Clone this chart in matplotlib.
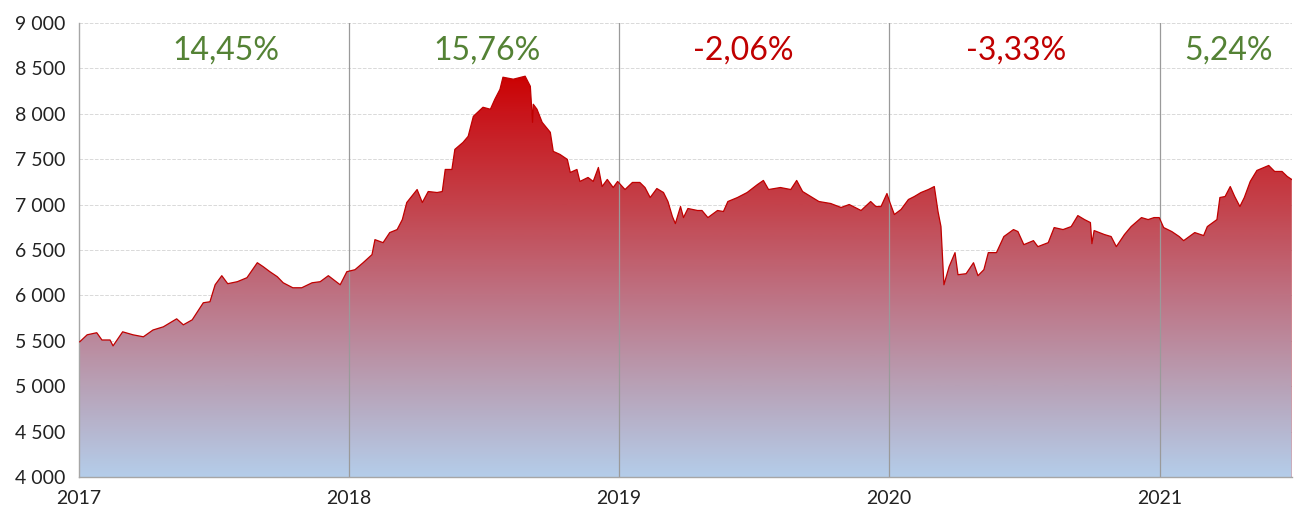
import numpy as np
import pandas as pd
import matplotlib
matplotlib.use("Agg")
import matplotlib.pyplot as plt
import matplotlib.dates as mdates
from matplotlib.colors import LinearSegmentedColormap
from matplotlib.ticker import FuncFormatter

plt.rcParams['font.family'] = ['Lato', 'DejaVu Sans']

# index values
dates = [
    '2017-01-02', '2017-01-12', '2017-01-25', '2017-02-01', '2017-02-12', '2017-02-16',
    '2017-03-01', '2017-03-15', '2017-03-29', '2017-04-11', '2017-04-25', '2017-05-13',
    '2017-05-22', '2017-06-03', '2017-06-18', '2017-06-27', '2017-07-04', '2017-07-13',
    '2017-07-21', '2017-08-03', '2017-08-16', '2017-08-30', '2017-09-07', '2017-09-16',
    '2017-09-26', '2017-10-04', '2017-10-17', '2017-10-29', '2017-11-12', '2017-11-23',
    '2017-12-04', '2017-12-20', '2017-12-29',
    '2018-01-09', '2018-01-20', '2018-02-01', '2018-02-05', '2018-02-16', '2018-02-25',
    '2018-03-07', '2018-03-14', '2018-03-20', '2018-04-03', '2018-04-10', '2018-04-18',
    '2018-04-30', '2018-05-07', '2018-05-11', '2018-05-20', '2018-05-24', '2018-06-04',
    '2018-06-11', '2018-06-18', '2018-07-01', '2018-07-11', '2018-07-17', '2018-07-24',
    '2018-07-28', '2018-08-11', '2018-08-27', '2018-09-03', '2018-09-06', '2018-09-07',
    '2018-09-12', '2018-09-19', '2018-09-30', '2018-10-04', '2018-10-13', '2018-10-23',
    '2018-10-27', '2018-11-05', '2018-11-09', '2018-11-20', '2018-11-27', '2018-12-04',
    '2018-12-09', '2018-12-16', '2018-12-24', '2018-12-30',
    '2019-01-09', '2019-01-19', '2019-01-29', '2019-02-05', '2019-02-12', '2019-02-21',
    '2019-03-02', '2019-03-08', '2019-03-14', '2019-03-18', '2019-03-25', '2019-03-29',
    '2019-04-04', '2019-04-17', '2019-04-23', '2019-05-01', '2019-05-14', '2019-05-22',
    '2019-05-28', '2019-06-10', '2019-06-23', '2019-07-07', '2019-07-15', '2019-07-22',
    '2019-08-07', '2019-08-21', '2019-08-29', '2019-09-06', '2019-09-17', '2019-09-28',
    '2019-10-14', '2019-10-28', '2019-11-08', '2019-11-24', '2019-12-07', '2019-12-14',
    '2019-12-21', '2019-12-29',
    '2020-01-02', '2020-01-08', '2020-01-17', '2020-01-27', '2020-02-04', '2020-02-13',
    '2020-02-23', '2020-03-02', '2020-03-07', '2020-03-11', '2020-03-15', '2020-03-22',
    '2020-03-30', '2020-04-03', '2020-04-14', '2020-04-24', '2020-04-30', '2020-05-08',
    '2020-05-14', '2020-05-25', '2020-06-04', '2020-06-17', '2020-06-23', '2020-07-01',
    '2020-07-14', '2020-07-20', '2020-08-03', '2020-08-11', '2020-08-23', '2020-09-03',
    '2020-09-12', '2020-09-21', '2020-09-29', '2020-10-01', '2020-10-04', '2020-10-18',
    '2020-10-27', '2020-11-03', '2020-11-14', '2020-11-23', '2020-12-07', '2020-12-16',
    '2020-12-24', '2020-12-31',
    '2021-01-06', '2021-01-17', '2021-01-27', '2021-02-02', '2021-02-17', '2021-03-01',
    '2021-03-06', '2021-03-19', '2021-03-23', '2021-03-30', '2021-04-06', '2021-04-12',
    '2021-04-19', '2021-04-25', '2021-05-03', '2021-05-12', '2021-05-28', '2021-06-05',
    '2021-06-15', '2021-06-22', '2021-06-28',
]
values = [
    5490, 5567, 5590, 5510, 5510, 5445,
    5600, 5567, 5545, 5620, 5655, 5743,
    5677, 5732, 5920, 5931, 6118, 6218,
    6130, 6152, 6196, 6361, 6317, 6262,
    6207, 6140, 6085, 6085, 6140, 6152,
    6218, 6118, 6262,
    6284, 6361, 6450, 6615, 6582, 6693,
    6726, 6836, 7024, 7167, 7024, 7145,
    7134, 7145, 7388, 7388, 7609, 7686,
    7753, 7973, 8073, 8051, 8161, 8271,
    8404, 8382, 8415, 8304, 7907, 8106,
    8051, 7907, 7797, 7587, 7554, 7499,
    7355, 7388, 7256, 7300, 7256, 7410,
    7200, 7278, 7189, 7256,
    7167, 7245, 7245, 7189, 7079, 7178,
    7134, 7035, 6870, 6792, 6980, 6858,
    6958, 6936, 6936, 6858, 6936, 6925,
    7035, 7079, 7134, 7222, 7267, 7167,
    7189, 7167, 7267, 7145, 7090, 7035,
    7013, 6969, 7002, 6936, 7035, 6980,
    6980, 7123,
    7024, 6892, 6947, 7057, 7090, 7134,
    7167, 7200, 6925, 6759, 6118, 6317,
    6472, 6229, 6240, 6361, 6218, 6284,
    6472, 6472, 6649, 6726, 6704, 6560,
    6604, 6538, 6582, 6748, 6726, 6759,
    6880, 6836, 6803, 6571, 6715, 6671,
    6649, 6538, 6671, 6759, 6858, 6836,
    6858, 6858,
    6748, 6704, 6649, 6604, 6693, 6660,
    6759, 6836, 7079, 7090, 7200, 7090,
    6980, 7079, 7256, 7377, 7432, 7366,
    7366, 7311, 7278,
]

years = ['2017', '2018', '2019', '2020', '2021']
year_returns = ['14,45%', '15,76%', '-2,06%', '-3,33%', '5,24%']
label_dates = ['2017-07-18', '2018-07-06', '2019-06-18', '2020-06-20', '2021-04-04']

x = mdates.date2num(pd.to_datetime(dates))
y = np.array(values, dtype=float)
ymin, ymax = 4000, 9000
xmin = mdates.date2num(pd.Timestamp('2017-01-01'))
xmax = x[-1]

fig = plt.figure(figsize=(12.95, 5.13), dpi=100)
ax = fig.add_axes([0.061, 0.070, 0.937, 0.885])

# gradient fill, clipped to the area under the curve
cmap = LinearSegmentedColormap.from_list('grad', [
    (0.0, '#b4cdea'), (0.2, '#b8a1b6'), (0.4, '#be7283'),
    (0.6, '#c4424b'), (0.8, '#c9151b'), (0.89, '#cc0000'), (1.0, '#cc0000')])
grad = np.linspace(0, 1, 512).reshape(-1, 1)
img = ax.imshow(grad, cmap=cmap, aspect='auto', origin='lower',
                extent=[xmin, xmax, ymin, ymax], zorder=1)
poly = ax.fill_between(x, y, ymin, facecolor='none', edgecolor='none')
clip = poly.get_paths()[0]
img.set_clip_path(clip, transform=ax.transData)

ax.plot(x, y, color='#c00000', lw=0.9, zorder=3)
ax.plot([x[-1], x[-1]], [ymin, y[-1]], color='#c00000', lw=1.0, zorder=3)

# year separators
for yr in years[1:]:
    ax.axvline(mdates.date2num(pd.Timestamp(yr + '-01-01')), color='#9a9a9a', lw=0.9, zorder=2)

for lab, d in zip(year_returns, label_dates):
    col = '#c00000' if lab.startswith('-') else '#548235'
    ax.text(mdates.date2num(pd.Timestamp(d)), 8700, lab, color=col, fontsize=23,
            ha='center', va='center', zorder=4)

ax.set_xlim(xmin, xmax + 1)
ax.set_ylim(ymin, ymax)
ax.set_yticks(np.arange(4000, 9001, 500))
ax.yaxis.set_major_formatter(FuncFormatter(lambda v, p: f'{int(v):,}'.replace(',', ' ')))
ax.set_xticks([mdates.date2num(pd.Timestamp(yr + '-01-01')) for yr in years])
ax.set_xticklabels(years)
ax.tick_params(length=0, labelsize=14, colors='#222222')
ax.tick_params(axis='x', pad=9)
ax.tick_params(axis='y', pad=10)
ax.grid(axis='y', color='#d9d9d9', ls='--', lw=0.7, zorder=0)
ax.set_axisbelow(True)
for s in ['top', 'right']:
    ax.spines[s].set_visible(False)
for s in ['left', 'bottom']:
    ax.spines[s].set_color('#a6a6a6')
    ax.spines[s].set_linewidth(1.0)

fig.savefig('out.png', dpi=100)
